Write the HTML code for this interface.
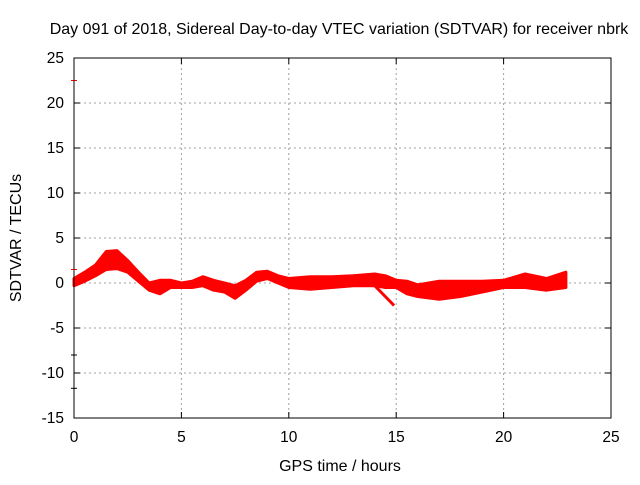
<!DOCTYPE html>
<html><head><meta charset="utf-8"><style>
body{margin:0;background:#fff}
svg text{font-family:"Liberation Sans",sans-serif;font-size:16px;fill:#000}
svg text.tk{font-size:15.5px}
</style></head><body>
<svg width="640" height="480" id="c">
<text x="339" y="34" text-anchor="middle">Day 091 of 2018, Sidereal Day-to-day VTEC variation (SDTVAR) for receiver nbrk</text>
<text x="340" y="471" text-anchor="middle">GPS time / hours</text>
<text transform="translate(21,238) rotate(-90)" text-anchor="middle">SDTVAR / TECUs</text>
<g id="grid"></g>
<g id="ticks"></g>
<g id="marks"></g>
<rect x="74" y="58" width="537" height="360" fill="none" stroke="#000"/>
</svg>
<script>
const xTicks=[0,5,10,15,20,25];
const yTicks=[-15,-10,-5,0,5,10,15,20,25];
const times=[0,0.5,1,1.5,2,2.5,3,3.5,4,4.5,5,5.5,6,6.5,7,7.5,8,8.5,9,9.5,10,11,12,13,14,14.5,15,15.5,16,17,18,19,20,21,22,22.9];
const upper=[0.5,1.2,2.0,3.5,3.6,2.5,1.2,0.0,0.3,0.3,0,0.2,0.7,0.3,0,-0.3,0.3,1.2,1.3,0.8,0.5,0.7,0.7,0.8,1.0,0.8,0.3,0.2,-0.2,0.2,0.2,0.2,0.3,1.0,0.5,1.2];
const lower=[-0.3,0.2,0.8,1.5,1.6,1.2,0.2,-0.8,-1.2,-0.5,-0.5,-0.5,-0.3,-0.8,-1.0,-1.7,-0.8,0.2,0.5,0,-0.5,-0.7,-0.5,-0.3,-0.3,-0.5,-0.5,-1.2,-1.5,-1.8,-1.5,-1.0,-0.5,-0.5,-0.8,-0.5];
const streakT=[14.0,14.9];
const streakV=[-0.3,-2.5];
const outT=[0,0,0,0];
const outV=[22.5,1.5,-8,-11.7];
const NS="http://www.w3.org/2000/svg";
const X=v=>74+v*537/25, Y=v=>283-v*9;
function mk(tag,at,parent){const e=document.createElementNS(NS,tag);for(const k in at)e.setAttribute(k,at[k]);parent.appendChild(e);return e;}
const g=document.getElementById('grid'),t=document.getElementById('ticks'),m=document.getElementById('marks');
xTicks.forEach(v=>{
 if(v>0&&v<25){const l=mk('line',{x1:X(v),x2:X(v),y1:58,y2:418,stroke:'#a0a0a0','stroke-dasharray':'2,3'},g);
 
 }
 mk('line',{x1:X(v),x2:X(v),y1:418,y2:412,stroke:'#000'},t);mk('line',{x1:X(v),x2:X(v),y1:58,y2:64,stroke:'#000'},t);
 const tx=mk('text',{x:X(v),y:442,'text-anchor':'middle','class':'tk'},t);tx.textContent=v;
 
 
});
yTicks.forEach(v=>{
 if(v>-15&&v<25){const l=mk('line',{x1:74,x2:611,y1:Y(v),y2:Y(v),stroke:'#a0a0a0','stroke-dasharray':'2,3'},g);
 
 }
 mk('line',{x1:74,x2:80,y1:Y(v),y2:Y(v),stroke:'#000'},t);mk('line',{x1:605,x2:611,y1:Y(v),y2:Y(v),stroke:'#000'},t);
 const tx=mk('text',{x:64,y:Y(v)+5,'text-anchor':'end','class':'tk'},t);tx.textContent=v;
 
 
});
let d='M'+times.map((tt,i)=>X(tt)+','+Y(upper[i])).join('L');
for(let i=times.length-1;i>=0;i--)d+='L'+X(times[i])+','+Y(lower[i]);
const band=mk('path',{d:d+'Z',fill:'#ff0000',stroke:'#ff0000','stroke-width':3,'stroke-linejoin':'round'},m);


const st=mk('line',{x1:X(streakT[0]),y1:Y(streakV[0]),x2:X(streakT[1]),y2:Y(streakV[1]),stroke:'#ff0000','stroke-width':3},m);


outT.forEach((tt,i)=>{const p=mk('line',{x1:X(tt)-3,x2:X(tt)+3,y1:Y(outV[i]),y2:Y(outV[i]),stroke:i==0||i==1?'#ff0000':'#000'},m);
 
 });
</script>
</body></html>
